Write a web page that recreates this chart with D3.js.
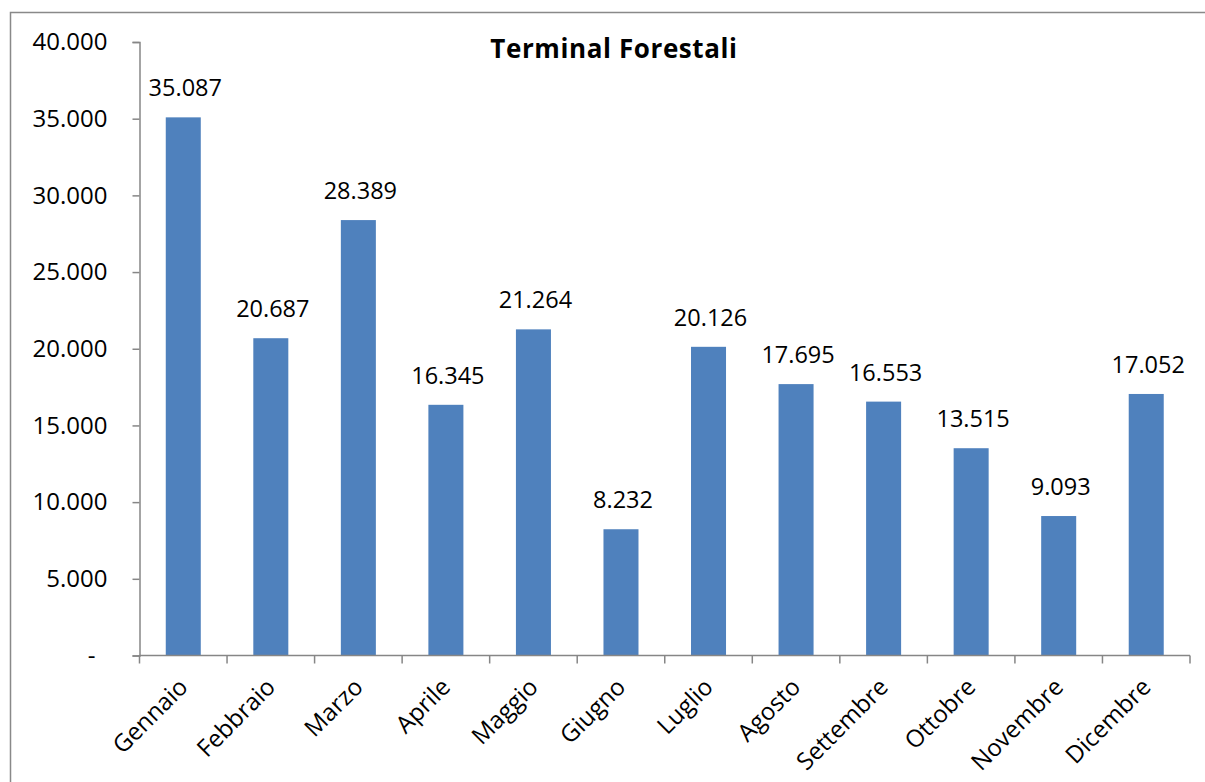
<!DOCTYPE html>
<html><head><meta charset="utf-8">
<script src="https://cdn.jsdelivr.net/npm/d3@7"></script>
<style>body{margin:0;background:#fff}svg{display:block}</style>
</head><body><svg id="c" width="1205" height="782"></svg>
<script>
const months = ["Gennaio","Febbraio","Marzo","Aprile","Maggio","Giugno","Luglio","Agosto","Settembre","Ottobre","Novembre","Dicembre"];
const values = [35087,20687,28389,16345,21264,8232,20126,17695,16553,13515,9093,17052];
const yTicks = [0,5000,10000,15000,20000,25000,30000,35000,40000];
const title = "Terminal Forestali";

const svg = d3.select("#c");
const font = "'Open Sans', sans-serif";
svg.append("rect").attr("x",10.5).attr("y",12.5).attr("width",1220).attr("height",800)
  .attr("fill","#fff").attr("stroke","#898989").attr("stroke-width",1.5);

const m = {l:139.5, r:1190, t:42, b:655.5};
const x = d3.scaleBand().domain(months).range([m.l, m.r]).paddingInner(0.6).paddingOuter(0.3);
const xb = d3.scaleBand().domain(months).range([m.l, m.r]);
const y = d3.scaleLinear().domain([0,40000]).range([m.b, m.t]);
const fmt = v => v===0 ? "-" : d3.format(",")(v).replace(/,/g,".");

svg.selectAll("rect.bar").data(values).enter().append("rect").attr("class","bar")
  .attr("x",(d,i)=>x(months[i])).attr("width",x.bandwidth())
  .attr("y",d=>y(d)).attr("height",d=>y(0)-y(d)).attr("fill","#4F81BD");

// y axis
const ya = svg.append("g").attr("transform",`translate(${m.l},0)`)
  .call(d3.axisLeft(y).tickValues(yTicks).tickSize(7).tickPadding(25).tickFormat(fmt));
ya.select(".domain").attr("stroke","#868686").attr("stroke-width",1.5);
ya.selectAll(".tick line").attr("stroke","#868686").attr("stroke-width",1.5);
ya.selectAll(".tick text").attr("font-family",font).attr("font-size",24).attr("fill","#000")
  .attr("dx",d=>d===0?-12:0);

// x axis
const xa = svg.append("g").attr("transform",`translate(0,${m.b})`);
xa.append("line").attr("x1",m.l).attr("x2",m.r).attr("stroke","#868686").attr("stroke-width",1.5);
const edges = months.map(mo=>xb(mo)).concat([m.r]);
xa.selectAll("line.t").data(edges).enter().append("line").attr("class","t")
  .attr("x1",d=>d).attr("x2",d=>d).attr("y1",0).attr("y2",8)
  .attr("stroke","#868686").attr("stroke-width",1.5);
xa.selectAll("text").data(months).enter().append("text")
  .attr("transform",d=>`translate(${xb(d)+xb.bandwidth()/2+6},${33}) rotate(-45)`)
  .attr("text-anchor","end").attr("font-family",font).attr("font-size",24).attr("fill","#000")
  .text(d=>d);

// data labels
svg.selectAll("text.lab").data(values).enter().append("text").attr("class","lab")
  .attr("x",(d,i)=>x(months[i])+x.bandwidth()/2+2).attr("y",d=>y(d)-21)
  .attr("text-anchor","middle").attr("font-family",font).attr("font-size",23.5).attr("fill","#000")
  .text(fmt);

svg.append("text").attr("x",614).attr("y",58).attr("text-anchor","middle")
  .attr("font-family",font).attr("font-weight","bold").attr("font-size",26).attr("letter-spacing",0.6).attr("fill","#000")
  .text(title);
</script></body></html>
